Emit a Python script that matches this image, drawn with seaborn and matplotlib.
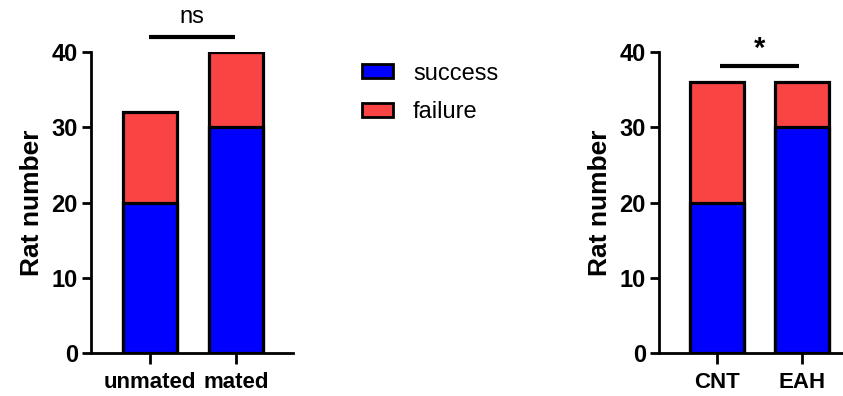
import matplotlib
matplotlib.use("Agg")
import matplotlib.pyplot as plt
from matplotlib.patches import Patch
import seaborn as sns
import pandas as pd

# Group counts per experiment
groups_left = ["unmated", "mated"]
success_left = [20, 30]
failure_left = [12, 10]

groups_right = ["CNT", "EAH"]
success_right = [20, 30]
failure_right = [16, 6]

y_ticks = [0, 10, 20, 30, 40]
outcome_labels = ["success", "failure"]
sig_labels = ["ns", "*"]

BLUE = "#0000FF"
RED = "#FA4343"

sns.set_theme(style="ticks")
plt.rcParams["font.family"] = ["Liberation Sans", "DejaVu Sans"]
plt.rcParams["text.color"] = "black"
plt.rcParams["axes.labelcolor"] = "black"
plt.rcParams["xtick.color"] = "black"
plt.rcParams["ytick.color"] = "black"

fig = plt.figure(figsize=(8.43, 3.96), dpi=100)
ax_l = fig.add_axes([91 / 843, 1 - 353 / 396, (293 - 91) / 843, 301 / 396])
ax_r = fig.add_axes([659 / 843, 1 - 353 / 396, (843 - 659) / 843, 301 / 396])


def stacked(ax, groups, success, failure, xlim):
    df = pd.DataFrame({
        "group": groups,
        "success": success,
        "total": [s + f for s, f in zip(success, failure)],
    })
    sns.barplot(data=df, x="group", y="total", color=RED, saturation=1,
                width=0.63, edgecolor="black", linewidth=2.3, ax=ax)
    sns.barplot(data=df, x="group", y="success", color=BLUE, saturation=1,
                width=0.63, edgecolor="black", linewidth=2.3, ax=ax)
    ax.set_ylim(0, 40)
    ax.set_xlim(*xlim)
    ax.set_yticks(y_ticks)
    ax.set_xlabel("")
    ax.set_ylabel("Rat number", fontsize=19, fontweight="bold", labelpad=5)
    for side in ("top", "right"):
        ax.spines[side].set_visible(False)
    for side in ("left", "bottom"):
        ax.spines[side].set_linewidth(2)
        ax.spines[side].set_color("black")
    ax.tick_params(axis="both", width=2, color="black",
                   labelcolor="black", direction="out")
    ax.tick_params(axis="y", labelsize=17, length=6.5, pad=3)
    ax.tick_params(axis="x", labelsize=16, length=8, pad=6)
    for lab in ax.get_xticklabels() + ax.get_yticklabels():
        lab.set_fontweight("bold")


stacked(ax_l, groups_left, success_left, failure_left, (-0.69, 1.66))
stacked(ax_r, groups_right, success_right, failure_right, (-0.68, 1.48))

# Significance annotations
ax_l.plot([-0.02, 0.99], [42.0, 42.0], color="black", lw=3, clip_on=False,
          solid_capstyle="butt")
ax_l.text(0.485, 43.85, sig_labels[0], ha="center", va="baseline", fontsize=17)
ax_r.plot([0.035, 0.96], [38.1, 38.1], color="black", lw=3, clip_on=False,
          solid_capstyle="butt")
ax_r.text(0.5, 38.6, sig_labels[1], ha="center", va="bottom", fontsize=21,
          fontweight="bold")

handles = [Patch(facecolor=BLUE, edgecolor="black", linewidth=2),
           Patch(facecolor=RED, edgecolor="black", linewidth=2)]
fig.legend(handles, outcome_labels, loc="center left",
           bbox_to_anchor=(362 / 843, 1 - 93 / 396), frameon=False,
           fontsize=17, handlelength=1.31, handleheight=0.55,
           handletextpad=0.85, labelspacing=0.7, borderpad=0,
           borderaxespad=0)

fig.savefig("out.png", dpi=100)
